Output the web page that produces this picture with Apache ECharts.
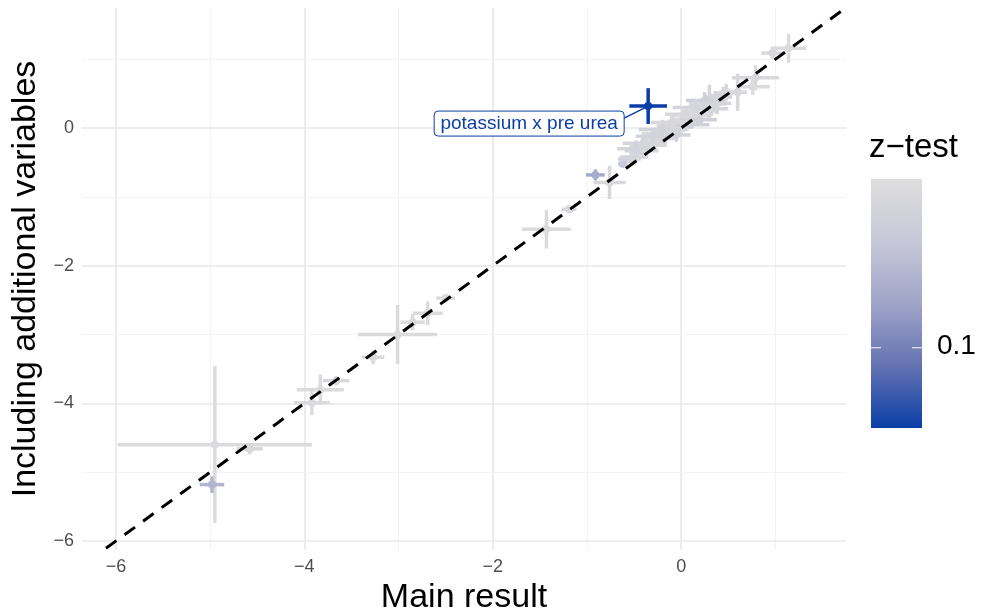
<!DOCTYPE html>
<html>
<head>
<meta charset="utf-8">
<script src="https://cdn.jsdelivr.net/npm/echarts@6/dist/echarts.min.js"></script>
<style>html,body{margin:0;padding:0;background:#fff}#c{width:982px;height:612px}</style>
</head>
<body>
<div id="c"></div>
<script>
// ---- data ----
// main result (x), including additional variables (y), half-width of x interval, half-width of y interval, z-test p
const mainResult = [
  -4.95, -4.58, -3.92, -3.83, -3.66, -3.27, -3.01, -2.85, -2.69, -2.50, -1.43, -1.19, -0.76,
  0.97, 1.14, 0.79, 0.76, 0.60,
  -0.62, -0.55, -0.50, -0.45, -0.42, -0.38, -0.35, -0.30, -0.28, -0.25, -0.22, -0.20, -0.17, -0.15,
  -0.12, -0.10, -0.08, -0.05, -0.03, 0.00, 0.02, 0.05, 0.08, 0.10, 0.12, 0.15, 0.18, 0.20, 0.22,
  0.25, 0.28, 0.30, 0.33, 0.36, 0.40, 0.45, 0.48, 0.20, -0.05, 0.10,
  -0.40, -0.20, 0.05, 0.25, 0.38, -0.30, 0.15, -0.48, -0.10, 0.32,
  -4.98, -0.91, -0.35
];
const additional = [
  -4.60, -4.66, -3.99, -3.80, -3.67, -3.33, -3.00, -2.82, -2.69, -2.47, -1.47, -1.18, -0.79,
  1.09, 1.16, 0.73, 0.60, 0.52,
  -0.52, -0.45, -0.42, -0.36, -0.33, -0.30, -0.25, -0.22, -0.20, -0.15, -0.12, -0.08, -0.10, -0.05,
  -0.02, 0.00, 0.03, 0.05, 0.02, 0.08, 0.10, 0.12, 0.15, 0.18, 0.20, 0.22, 0.25, 0.28, 0.30,
  0.32, 0.35, 0.38, 0.40, 0.42, 0.45, 0.50, 0.52, 0.12, -0.10, 0.05,
  -0.22, -0.02, 0.20, 0.40, 0.36, -0.12, 0.30, -0.30, 0.08, 0.28,
  -5.18, -0.68, 0.32
];
const mainErr = [
  1.03, 0.14, 0.19, 0.25, 0.14, 0.12, 0.42, 0.13, 0.16, 0.10, 0.26, 0.08, 0.17,
  0.12, 0.19, 0.25, 0.18, 0.10,
  0.05, 0.12, 0.15, 0.10, 0.18, 0.12, 0.20, 0.15, 0.10, 0.18, 0.12, 0.22, 0.10, 0.15,
  0.20, 0.12, 0.18, 0.10, 0.14, 0.20, 0.12, 0.16, 0.10, 0.22, 0.14, 0.12, 0.18, 0.10, 0.16,
  0.12, 0.20, 0.10, 0.15, 0.12, 0.14, 0.10, 0.08, 0.18, 0.15, 0.20,
  0.22, 0.25, 0.22, 0.20, 0.15, 0.18, 0.24, 0.20, 0.22, 0.18,
  0.13, 0.10, 0.20
];
const addErr = [
  1.14, 0.08, 0.18, 0.22, 0.07, 0.10, 0.43, 0.12, 0.17, 0.06, 0.28, 0.06, 0.24,
  0.08, 0.21, 0.18, 0.12, 0.27,
  0.04, 0.05, 0.08, 0.10, 0.06, 0.12, 0.07, 0.10, 0.15, 0.08, 0.10, 0.06, 0.12, 0.08,
  0.10, 0.06, 0.12, 0.08, 0.10, 0.07, 0.12, 0.08, 0.10, 0.06, 0.14, 0.08, 0.10, 0.08, 0.12,
  0.08, 0.10, 0.25, 0.10, 0.12, 0.08, 0.10, 0.12, 0.08, 0.10, 0.06,
  0.10, 0.14, 0.10, 0.12, 0.16, 0.10, 0.12, 0.12, 0.14, 0.10,
  0.12, 0.08, 0.26
];
const zTest = [
  0.30, 0.29, 0.30, 0.30, 0.29, 0.30, 0.30, 0.30, 0.30, 0.30, 0.30, 0.29, 0.29,
  0.29, 0.30, 0.29, 0.30, 0.29,
  0.24, 0.27, 0.28, 0.29, 0.28, 0.30, 0.29, 0.28, 0.30, 0.29, 0.28, 0.30, 0.29, 0.27,
  0.30, 0.29, 0.28, 0.30, 0.29, 0.28, 0.30, 0.29, 0.27, 0.30, 0.29, 0.28, 0.30, 0.29, 0.28,
  0.30, 0.29, 0.28, 0.30, 0.29, 0.28, 0.27, 0.29, 0.26, 0.27, 0.26,
  0.28, 0.27, 0.29, 0.26, 0.28, 0.27, 0.28, 0.27, 0.29, 0.28,
  0.19, 0.17, 0.00
];
const annotText = ['potassium x pre urea'];
const annotX = [-0.35];
const annotY = [0.32];
const xTickLabels = [-6, -4, -2, 0];
const yTickLabels = [-6, -4, -2, 0];
const xMajor = [-6, -4, -2, 0];
const xMinor = [-5, -3, -1, 1];
const yMajor = [-6, -4, -2, 0];
const yMinor = [-5, -3, -1, 1];
const legendTick = [0.1];
const zMin = 0, zMax = 0.31;
const identityLine = [[-6.5, -6.5], [2, 2]];

// ---- chart ----
const rampColors = ['#0a3ea6', '#6472b2', '#a0a5c9', '#c7c8d8', '#dedede'];
const FONT = '"Liberation Sans", Arial, Helvetica, sans-serif';
const fmt = v => String(v).replace('-', '\u2212');

const points = mainResult.map((x, i) => [x, additional[i], mainErr[i], addErr[i], zTest[i]]);

function renderBars(params, api) {
  const x = api.value(0), y = api.value(1), xe = api.value(2), ye = api.value(3);
  const c = api.coord([x, y]);
  const l = api.coord([x - xe, y]), r = api.coord([x + xe, y]);
  const t = api.coord([x, y + ye]), b = api.coord([x, y - ye]);
  const color = api.visual('color');
  return {
    type: 'group',
    children: [
      { type: 'line', shape: { x1: l[0], y1: l[1], x2: r[0], y2: r[1] }, style: { stroke: color, lineWidth: 3.5 } },
      { type: 'line', shape: { x1: t[0], y1: t[1], x2: b[0], y2: b[1] }, style: { stroke: color, lineWidth: 3.5 } },
      { type: 'circle', shape: { cx: c[0], cy: c[1], r: 4 }, style: { fill: color } }
    ]
  };
}

function renderAnnot(params, api) {
  const c = api.coord([api.value(0), api.value(1)]);
  const txt = annotText[params.dataIndex];
  const col = '#0b3fa6';
  return {
    type: 'group',
    children: [
      { type: 'line', shape: { x1: c[0] - 24, y1: c[1] + 12, x2: c[0], y2: c[1] }, style: { stroke: col, lineWidth: 1.5 } },
      { type: 'rect', shape: { x: c[0] - 214, y: c[1] + 5, width: 190, height: 25, r: 4 }, style: { fill: '#fff', stroke: col, lineWidth: 1 } },
      { type: 'text', style: { text: txt, x: c[0] - 119, y: c[1] + 18, align: 'center', verticalAlign: 'middle', fill: col, font: '19px ' + FONT } }
    ]
  };
}

const gridMarks = [];
xMajor.forEach(v => gridMarks.push({ xAxis: v, lineStyle: { color: '#e8e8e8', width: 1.6, type: 'solid' } }));
xMinor.forEach(v => gridMarks.push({ xAxis: v, lineStyle: { color: '#f3f3f3', width: 1, type: 'solid' } }));
yMajor.forEach(v => gridMarks.push({ yAxis: v, lineStyle: { color: '#e8e8e8', width: 1.6, type: 'solid' } }));
yMinor.forEach(v => gridMarks.push({ yAxis: v, lineStyle: { color: '#f3f3f3', width: 1, type: 'solid' } }));

const barTop = 179, barH = 249, barX = 871, barW = 51;
const tickY = barTop + (zMax - legendTick[0]) / (zMax - zMin) * barH;

const chart = echarts.init(document.getElementById('c'), null, { renderer: 'canvas' });
chart.setOption({
  animation: false,
  backgroundColor: '#ffffff',
  grid: { left: 82, right: 136, top: 8, bottom: 62, containLabel: false, outerBoundsMode: 'none' },
  xAxis: {
    type: 'value', min: -6.36, max: 1.75,
    name: 'Main result', nameLocation: 'middle', nameGap: 31,
    nameTextStyle: { fontFamily: FONT, fontSize: 34, color: '#000' },
    axisLine: { show: false }, axisTick: { show: false }, splitLine: { show: false },
    axisLabel: { customValues: xTickLabels, formatter: fmt, color: '#4d4d4d', fontSize: 18, fontFamily: FONT, margin: 8 }
  },
  yAxis: {
    type: 'value', min: -6.13, max: 1.745,
    name: 'Including additional variables', nameLocation: 'middle', nameGap: 31, nameRotate: 90,
    nameTextStyle: { fontFamily: FONT, fontSize: 34, color: '#000' },
    axisLine: { show: false }, axisTick: { show: false }, splitLine: { show: false },
    axisLabel: { customValues: yTickLabels, formatter: fmt, color: '#4d4d4d', fontSize: 18, fontFamily: FONT, margin: 8 }
  },
  visualMap: {
    show: false, type: 'continuous', seriesIndex: 1, dimension: 4,
    min: zMin, max: zMax, inRange: { color: rampColors }
  },
  series: [
    {
      type: 'line', data: identityLine, symbol: 'none', silent: true, z: 1,
      lineStyle: { width: 0 },
      markLine: { silent: true, symbol: 'none', label: { show: false }, data: gridMarks, z: 0 }
    },
    { type: 'custom', renderItem: renderBars, data: points, z: 2 },
    {
      type: 'line', data: identityLine, symbol: 'none', silent: true, z: 3,
      lineStyle: { color: '#000', width: 3, type: [13, 10] }
    },
    { type: 'custom', renderItem: renderAnnot, data: annotX.map((x, i) => [x, annotY[i]]), z: 4 }
  ],
  graphic: [
    { type: 'text', left: 869, top: 131, style: { text: 'z\u2212test', font: '33px ' + FONT, fill: '#000' } },
    { type: 'rect', shape: { x: barX, y: barTop, width: barW, height: barH },
      style: { fill: new echarts.graphic.LinearGradient(0, 1, 0, 0, rampColors.map((c, i) => ({ offset: i / (rampColors.length - 1), color: c }))) } },
    { type: 'line', shape: { x1: barX, y1: tickY, x2: barX + 10, y2: tickY }, style: { stroke: '#e6e6f0', lineWidth: 1.2 } },
    { type: 'line', shape: { x1: barX + barW - 10, y1: tickY, x2: barX + barW, y2: tickY }, style: { stroke: '#e6e6f0', lineWidth: 1.2 } },
    { type: 'text', left: 937, top: tickY - 15, style: { text: String(legendTick[0]), font: '28px ' + FONT, fill: '#000' } }
  ]
});
</script>
</body>
</html>
